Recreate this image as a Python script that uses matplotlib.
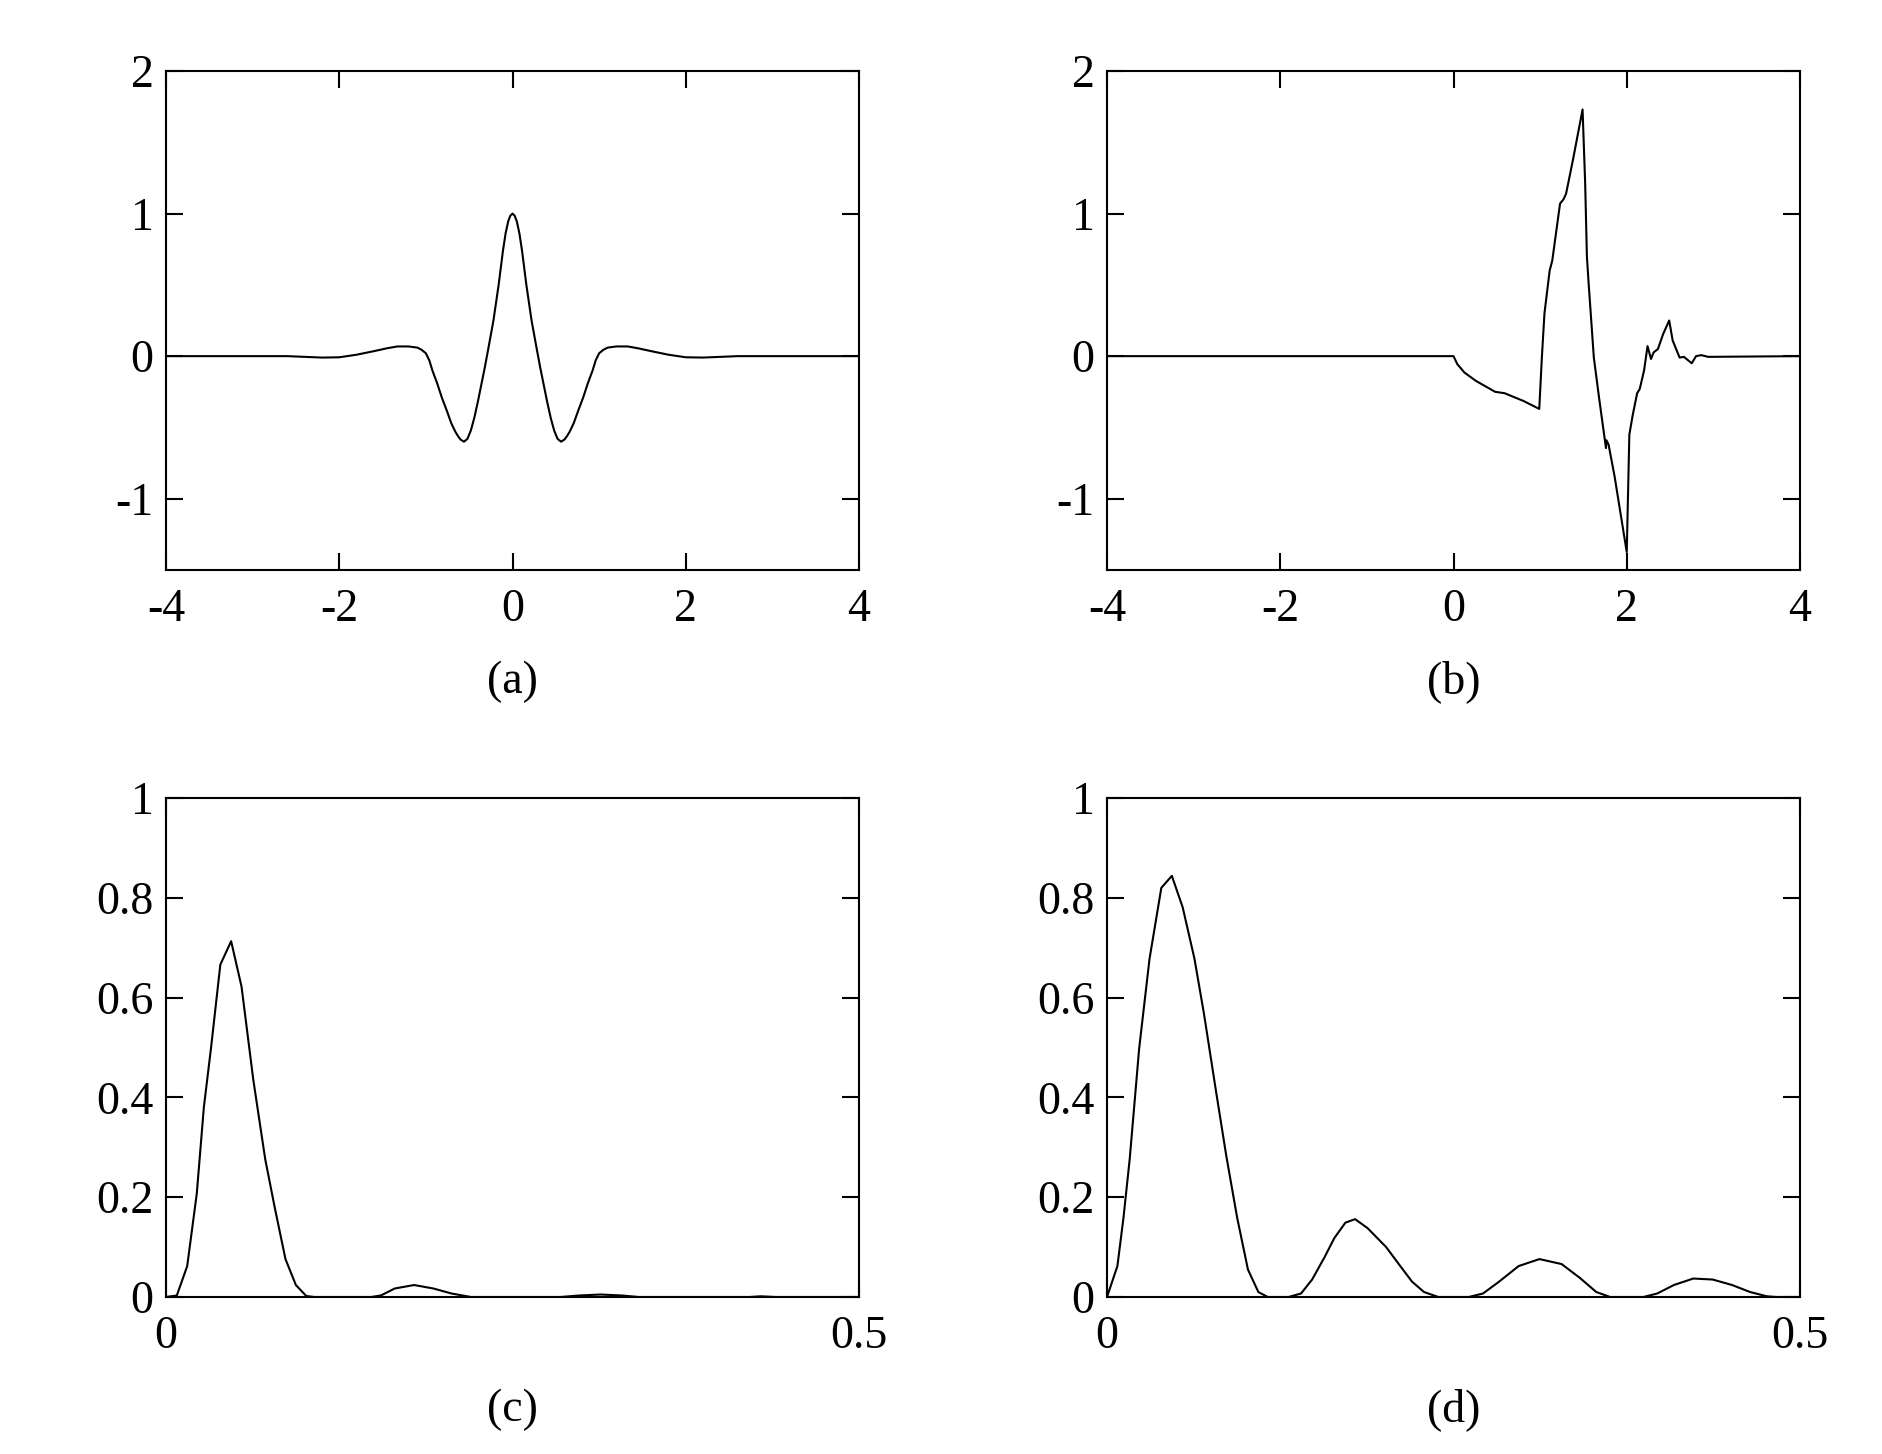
import matplotlib
matplotlib.use("Agg")
import matplotlib.pyplot as plt

plt.rcParams['font.family'] = ['Liberation Serif', 'DejaVu Serif']
plt.rcParams['axes.unicode_minus'] = False

# (a) wavelet in time
a_x = [-4.0, -2.6, -2.4, -2.2, -2.0, -1.8, -1.6, -1.45, -1.33, -1.2, -1.1, -1.05, -1.0,
       -0.96, -0.925, -0.87, -0.816, -0.76, -0.707, -0.66, -0.63, -0.6, -0.56, -0.52,
       -0.48, -0.44, -0.40, -0.36, -0.32, -0.28, -0.22, -0.16, -0.11, -0.08, -0.05,
       -0.025, 0.0,
       0.025, 0.05, 0.08, 0.11, 0.16, 0.22, 0.28, 0.32, 0.36, 0.40, 0.44, 0.48, 0.52,
       0.56, 0.6, 0.63, 0.66, 0.707, 0.76, 0.816, 0.87, 0.925, 0.96, 1.0, 1.05, 1.1,
       1.2, 1.33, 1.45, 1.6, 1.8, 2.0, 2.2, 2.4, 2.6, 4.0]
a_y = [0.0, 0.0, -0.005, -0.01, -0.008, 0.01, 0.035, 0.055, 0.068, 0.068, 0.06, 0.045, 0.02,
       -0.03, -0.10, -0.19, -0.29, -0.38, -0.47, -0.53, -0.56, -0.585, -0.60, -0.58,
       -0.52, -0.43, -0.32, -0.20, -0.08, 0.05, 0.25, 0.50, 0.74, 0.86, 0.945,
       0.985, 1.0,
       0.985, 0.945, 0.86, 0.74, 0.50, 0.25, 0.05, -0.08, -0.20, -0.32, -0.43, -0.52, -0.58,
       -0.60, -0.585, -0.56, -0.53, -0.47, -0.38, -0.29, -0.19, -0.10, -0.03, 0.02, 0.045, 0.06,
       0.068, 0.068, 0.055, 0.035, 0.01, -0.008, -0.01, -0.005, 0.0, 0.0]

# (b) signal
b_x = [-4.0, 0.0, 0.044, 0.126, 0.26, 0.48, 0.59, 0.81, 0.99, 1.02, 1.05, 1.11, 1.14,
       1.23, 1.27, 1.30, 1.38, 1.49, 1.52, 1.54, 1.56, 1.62, 1.68, 1.76, 1.765, 1.79,
       1.86, 2.0, 2.03, 2.07, 2.12, 2.15, 2.20, 2.24, 2.28, 2.31, 2.36, 2.42, 2.49,
       2.53, 2.61, 2.66, 2.75, 2.80, 2.86, 2.94, 4.0]
b_y = [0.0, 0.0, -0.056, -0.115, -0.174, -0.25, -0.26, -0.315, -0.37, -0.01, 0.30, 0.60, 0.67,
       1.07, 1.10, 1.14, 1.38, 1.73, 1.21, 0.70, 0.51, -0.01, -0.29, -0.645, -0.59, -0.62,
       -0.845, -1.374, -0.55, -0.41, -0.26, -0.23, -0.10, 0.07, -0.02, 0.026, 0.05, 0.155, 0.25,
       0.11, -0.01, -0.005, -0.05, 0.0, 0.007, -0.005, 0.0]

# (c) spectrum
c_x = [0.0, 0.0078, 0.0153, 0.0222, 0.0273, 0.0324, 0.0392, 0.047, 0.0545, 0.063, 0.0716,
       0.0784, 0.0862, 0.0937, 0.1012, 0.107, 0.148, 0.155, 0.165, 0.179, 0.193, 0.206,
       0.22, 0.2846, 0.298, 0.3136, 0.329, 0.341, 0.421, 0.429, 0.44, 0.5]
c_y = [0.0, 0.003, 0.062, 0.207, 0.38, 0.497, 0.666, 0.713, 0.622, 0.435, 0.276,
       0.18, 0.076, 0.024, 0.002, 0.0, 0.0, 0.003, 0.017, 0.024, 0.017, 0.007,
       0.0, 0.0, 0.003, 0.005, 0.003, 0.0, 0.0, 0.0014, 0.0, 0.0]

# (d) spectrum
d_x = [0.0, 0.0075, 0.0119, 0.0164, 0.0232, 0.0307, 0.0392, 0.0468, 0.0546, 0.0631, 0.07,
       0.0785, 0.086, 0.0939, 0.1017, 0.1092, 0.116, 0.131, 0.14, 0.148, 0.157, 0.164,
       0.172, 0.179, 0.188, 0.2014, 0.2116, 0.22, 0.2287, 0.239, 0.261, 0.2713, 0.283,
       0.297, 0.312, 0.328, 0.3413, 0.353, 0.363, 0.387, 0.397, 0.409, 0.423, 0.437,
       0.451, 0.464, 0.476, 0.483, 0.5]
d_y = [0.0, 0.062, 0.159, 0.277, 0.498, 0.678, 0.82, 0.844, 0.781, 0.678, 0.567,
       0.415, 0.284, 0.159, 0.055, 0.010, 0.0, 0.0, 0.007, 0.035, 0.08, 0.118,
       0.149, 0.156, 0.138, 0.1, 0.062, 0.031, 0.010, 0.0, 0.0, 0.007, 0.031,
       0.062, 0.076, 0.066, 0.038, 0.010, 0.0, 0.0, 0.007, 0.024, 0.037, 0.035,
       0.024, 0.010, 0.0014, 0.0, 0.0]

captions = ['(a)', '(b)', '(c)', '(d)']
top_xticks = [-4, -2, 0, 2, 4]
top_yticks = [-1, 0, 1, 2]
bot_xticks = [0, 0.5]
bot_yticks = [0, 0.2, 0.4, 0.6, 0.8, 1]

W, H = 1883, 1454
fig = plt.figure(figsize=(W / 100, H / 100), dpi=100)

lefts = [166, 1107]
rows = [(71, 570), (798, 1297)]
aw = 693

def make_ax(lx, row):
    top, bot = row
    return fig.add_axes([lx / W, 1 - bot / H, aw / W, (bot - top) / H])

panels = [
    (a_x, a_y, (-4, 4), (-1.5, 2), top_xticks, top_yticks, ['-4', '-2', '0', '2', '4'], ['-1', '0', '1', '2']),
    (b_x, b_y, (-4, 4), (-1.5, 2), top_xticks, top_yticks, ['-4', '-2', '0', '2', '4'], ['-1', '0', '1', '2']),
    (c_x, c_y, (0, 0.5), (0, 1), bot_xticks, bot_yticks, ['0', '0.5'], ['0', '0.2', '0.4', '0.6', '0.8', '1']),
    (d_x, d_y, (0, 0.5), (0, 1), bot_xticks, bot_yticks, ['0', '0.5'], ['0', '0.2', '0.4', '0.6', '0.8', '1']),
]
positions = [(lefts[0], rows[0]), (lefts[1], rows[0]), (lefts[0], rows[1]), (lefts[1], rows[1])]
cap_y = [682, 682, 1410, 1410]

for i, (xs, ys, xl, yl, xt, yt, xtl, ytl) in enumerate(panels):
    lx, row = positions[i]
    ax = make_ax(lx, row)
    ax.plot(xs, ys, color='black', lw=1.5)
    ax.set_xlim(*xl)
    ax.set_ylim(*yl)
    ax.set_xticks(xt)
    ax.set_xticklabels(xtl)
    ax.set_yticks(yt)
    ax.set_yticklabels(ytl)
    ax.tick_params(direction='in', length=12, width=1.5, labelsize=33,
                   top=True, right=True)
    ax.tick_params(axis='x', pad=13)
    ax.tick_params(axis='y', pad=9)
    for s in ax.spines.values():
        s.set_linewidth(1.5)
    fig.text((lx + aw / 2) / W, 1 - cap_y[i] / H, captions[i], fontsize=33,
             ha='center', va='center')

fig.savefig('out.png', dpi=100)
